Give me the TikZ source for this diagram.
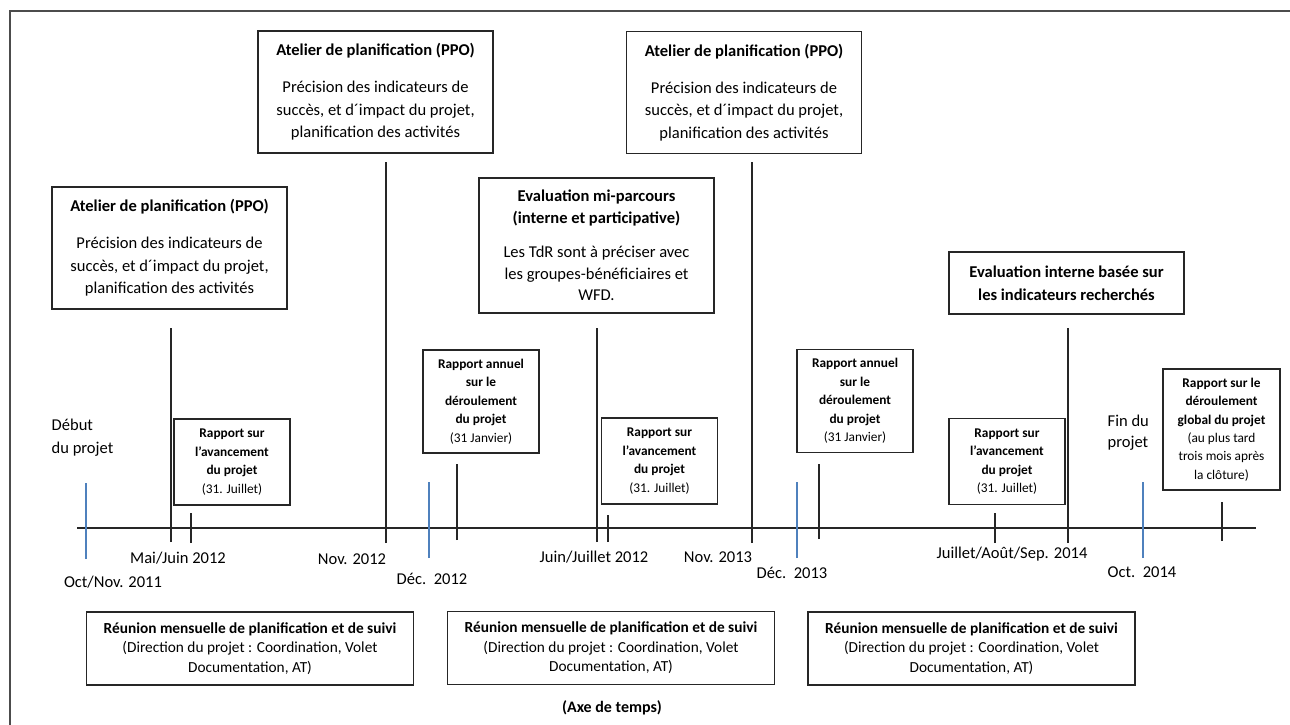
\documentclass[tikz,border=0pt]{standalone}
\usepackage{fontspec}
\setmainfont{Carlito}
\definecolor{hito}{HTML}{4F81BD}
\tikzset{
	caja/.style={draw=black!85, line width=1.2pt, align=center},
	grande/.style={caja, minimum width=176.25pt, font=\fontsize{12.4}{16.9}\selectfont},
	informe/.style={caja, minimum width=87pt, font=\fontsize{10}{13.8}\selectfont},
	reunion/.style={caja, minimum width=245.25pt, minimum height=54.75pt, font=\fontsize{11.5}{14.6}\selectfont},
	fecha/.style={font=\fontsize{12.4}{16}\selectfont},
	linea/.style={line width=1pt, black!85},
	hitoazul/.style={line width=2pt, hito}
}
\begin{document}
\begin{tikzpicture}[x=0.75pt, y=-0.75pt]
		\useasboundingbox (0,0) rectangle (1290,725);
		\draw[black!70, line width=0.8pt] (10,725) -- (10,11) -- (1290,11);
		
		\node[grande, minimum height=91.5pt] (taller1) at (169.5,248) {\textbf{Atelier de planification (PPO)}\\[10.85pt]Précision des indicateurs de\\succès, et d´impact du projet,\\planification des activités};
		\node[grande, minimum height=91.5pt] (taller2) at (375.5,92) {\textbf{Atelier de planification (PPO)}\\[10.85pt]Précision des indicateurs de\\succès, et d´impact du projet,\\planification des activités};
		\node[grande, minimum height=91.5pt] (taller3) at (744,92.5) {\textbf{Atelier de planification (PPO)}\\[10.85pt]Précision des indicateurs de\\succès, et d´impact du projet,\\planification des activités};
		\node[grande, minimum height=101.25pt, font=\fontsize{12.4}{16}\selectfont] (evalmi) at (596.5,245.5) {\textbf{Evaluation mi-parcours}\\\textbf{(interne et participative)}\\[10pt]Les TdR sont à préciser avec\\les groupes-bénéficiaires et\\WFD.};
		\node[grande, minimum height=46.5pt, font=\bfseries\fontsize{12.4}{17.25}\selectfont] (evalint) at (1066.5,283) {Evaluation interne basée sur\\les indicateurs recherchés};
		
		\node[informe, minimum height=64.5pt] (rap1) at (232,462) {\textbf{Rapport sur}\\\textbf{l’avancement}\\\textbf{du projet}\\(31. Juillet)};
		\node[informe, minimum height=77.25pt] (annuel1) at (481,401.5) {\textbf{Rapport annuel}\\\textbf{sur le}\\\textbf{déroulement}\\\textbf{du projet}\\(31 Janvier)};
		\node[informe, minimum height=64.5pt] (rap2) at (659.5,461) {\textbf{Rapport sur}\\\textbf{l’avancement}\\\textbf{du projet}\\(31. Juillet)};
		\node[informe, minimum height=77.25pt] (annuel2) at (855,401) {\textbf{Rapport annuel}\\\textbf{sur le}\\\textbf{déroulement}\\\textbf{du projet}\\(31 Janvier)};
		\node[informe, minimum height=64.5pt] (rap3) at (1007,461.5) {\textbf{Rapport sur}\\\textbf{l’avancement}\\\textbf{du projet}\\(31. Juillet)};
		\node[informe, minimum height=90.75pt, minimum width=87.75pt] (global) at (1221.5,429.5) {\textbf{Rapport sur le}\\\textbf{déroulement}\\\textbf{global du projet}\\(au plus tard\\trois mois après\\la clôture)};
		
		\node[fecha, align=left, anchor=west, font=\fontsize{12.4}{17.25}\selectfont] (debut) at (47,437.5) {Début\\du projet};
		\node[fecha, align=left, anchor=west, font=\fontsize{12.4}{15.75}\selectfont] (fin) at (1103,432.5) {Fin du\\projet};
		
		\coordinate (axeg) at (77,528);
		\coordinate (axed) at (1256,528);
		\draw[linea] (axeg) -- (axed);
		
		\coordinate (octnov11) at (86,559);
		\coordinate (dec12) at (429,558);
		\coordinate (dec13) at (797,558);
		\coordinate (oct14) at (1143,558);
		\draw[hitoazul] (octnov11) -- ++(0,-76);
		\draw[hitoazul] (dec12) -- ++(0,-76);
		\draw[hitoazul] (dec13) -- ++(0,-76);
		\draw[hitoazul] (oct14) -- ++(0,-76);
		
		\coordinate (maijuin12) at (171,542);
		\coordinate (juil12) at (191,543);
		\coordinate (nov12) at (386,543);
		\coordinate (jan13) at (457,540);
		\coordinate (juinjuil13) at (597,542);
		\coordinate (juil13) at (608,542);
		\coordinate (nov13) at (752,543);
		\coordinate (jan14) at (819,539);
		\coordinate (juil14) at (995,543);
		\coordinate (sep14) at (1068,543);
		\coordinate (jan15) at (1222,541);
		\draw[linea] (maijuin12) -- ++(0,-214);
		\draw[linea] (juil12) -- ++(0,-30);
		\draw[linea] (nov12) -- ++(0,-381);
		\draw[linea] (jan13) -- ++(0,-76);
		\draw[linea] (juinjuil13) -- ++(0,-214);
		\draw[linea] (juil13) -- ++(0,-27);
		\draw[linea] (nov13) -- ++(0,-381);
		\draw[linea] (jan14) -- ++(0,-75);
		\draw[linea] (juil14) -- ++(0,-30);
		\draw[linea] (sep14) -- ++(0,-215);
		\draw[linea] (jan15) -- ++(0,-39);
		
		\node[fecha] (toct11) at (113,582) {Oct/Nov. 2011};
		\node[fecha] (tmai12) at (178,558) {Mai/Juin 2012};
		\node[fecha] (tnov12) at (352,559) {Nov. 2012};
		\node[fecha] (tdec12) at (432,579) {Déc.\ \ 2012};
		\node[fecha] (tjuin12) at (594,557) {Juin/Juillet 2012};
		\node[fecha] (tnov13) at (718,557) {Nov. 2013};
		\node[fecha] (tdec13) at (792,573) {Déc.\ \ 2013};
		\node[fecha] (tjuil14) at (1012,554) {Juillet/Août/Sep. 2014};
		\node[fecha] (toct14) at (1142,572) {Oct.\ \ 2014};
		
		\node[reunion] (reunion1) at (250,648.5) {\textbf{Réunion mensuelle de planification et de suivi}\\(Direction du projet : Coordination, Volet\\Documentation, AT)};
		\node[reunion] (reunion2) at (611,648) {\textbf{Réunion mensuelle de planification et de suivi}\\(Direction du projet : Coordination, Volet\\Documentation, AT)};
		\node[reunion] (reunion3) at (971.5,648.5) {\textbf{Réunion mensuelle de planification et de suivi}\\(Direction du projet : Coordination, Volet\\Documentation, AT)};
		
		\node[fecha, font=\bfseries\fontsize{12}{14}\selectfont] (axe) at (612,708) {(Axe de temps)};
\end{tikzpicture}
\end{document}
